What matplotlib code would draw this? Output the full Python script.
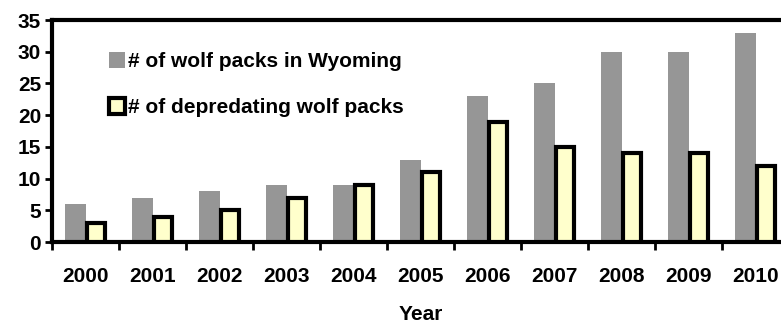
import numpy as np
import matplotlib.pyplot as plt

plt.rcParams['font.family'] = ['Liberation Sans', 'DejaVu Sans']
plt.rcParams['font.weight'] = 'bold'

years = ['2000', '2001', '2002', '2003', '2004', '2005', '2006', '2007', '2008', '2009', '2010']
packs = [6, 7, 8, 9, 9, 13, 23, 25, 30, 30, 33]
depredating = [3, 4, 5, 7, 9, 11, 19, 15, 14, 14, 12]

fs = 15

fig = plt.figure(figsize=(7.81, 3.24), dpi=100)
ax = fig.add_axes([0.067, 0.253, 1.01 - 0.067, 0.685])

x = np.arange(len(years))
w = 0.31
b1 = ax.bar(x - 0.15, packs, w, color='#969696', label='# of wolf packs in Wyoming', zorder=2)
b2 = ax.bar(x + 0.155, depredating, w * 0.85, color='#FFFFCC', edgecolor='black',
            linewidth=3, label='# of depredating wolf packs', zorder=3)

ax.set_xlim(-0.5, len(years) - 0.5)
ax.set_ylim(0, 35)
ax.set_yticks(range(0, 36, 5))
ax.set_yticklabels([str(v) for v in range(0, 36, 5)], fontsize=fs, fontweight='bold')

# boundary ticks between years, labels centred under each group
ax.set_xticks(np.arange(len(years)) - 0.5)
ax.set_xticklabels([])
ax.set_xticks(x, minor=True)
ax.set_xticklabels(years, minor=True, fontsize=fs, fontweight='bold')
ax.tick_params(axis='x', which='minor', length=0, pad=18)
ax.tick_params(axis='x', which='major', length=6, width=2, direction='out')
ax.tick_params(axis='y', length=5, width=2, pad=3)

for s in ['left', 'bottom', 'top']:
    ax.spines[s].set_linewidth(3)
ax.spines['right'].set_visible(False)

ax.set_xlabel('Year', fontsize=fs, fontweight='bold', labelpad=14)

ax.legend(handles=[b1, b2], loc='upper left', bbox_to_anchor=(0.065, 0.895),
          frameon=False, prop={'size': fs, 'weight': 'bold'},
          handlelength=0.8, handleheight=0.8,
          handletextpad=0.15, labelspacing=1.3, borderaxespad=0)

fig.savefig('out.png', dpi=100)
